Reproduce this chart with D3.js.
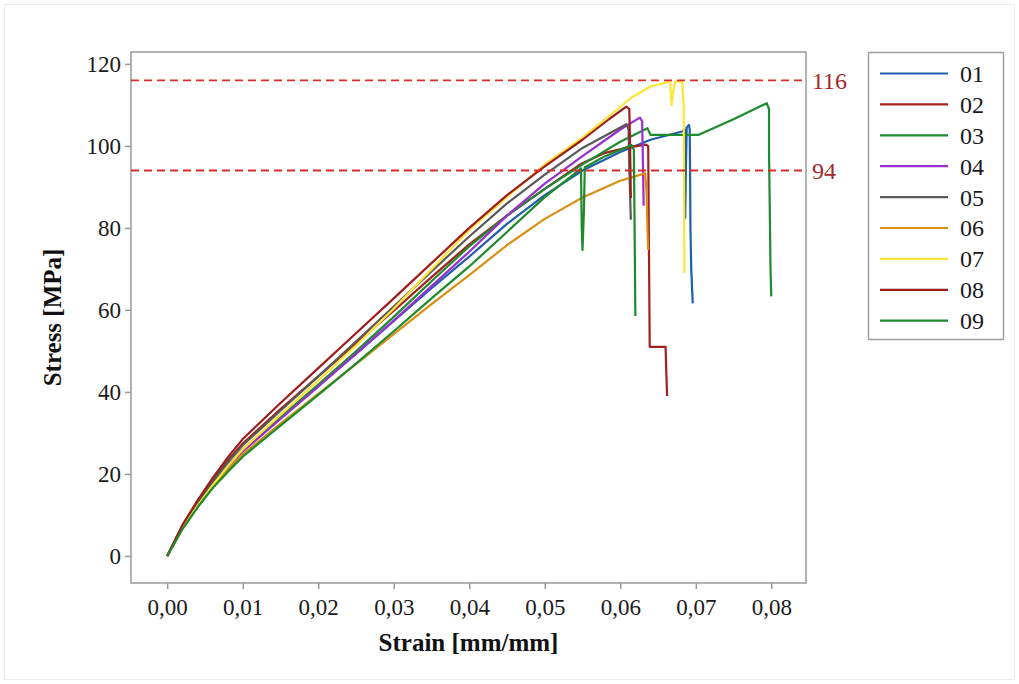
<!DOCTYPE html>
<html>
<head>
<meta charset="utf-8">
<script src="https://cdn.jsdelivr.net/npm/d3@7"></script>
<style>
  body { margin: 0; background: #fff; }
  svg { display: block; }
</style>
</head>
<body>
<svg id="chart" width="1019" height="684"></svg>
<script>
// Series names and colours (legend order)
const names = ["01", "02", "03", "04", "05", "06", "07", "08", "09"];
const colors = ["#1f5fae", "#a3201f", "#1e8b30", "#9a2fd0", "#595959", "#d98f12", "#ffe533", "#9d1c1c", "#1f8a2c"];

// Stress-strain points [strain, stress]
const s01 = [[0,0],[0.002,7],[0.004,12.6],[0.006,17.6],[0.008,22],[0.010,26],[0.015,34],[0.020,41.5],[0.025,49.3],[0.030,57.3],[0.035,65.3],[0.040,73],[0.045,81],[0.050,88],[0.055,94],[0.060,98.5],[0.064,101.5],[0.0682,103.5],[0.0685,104],[0.0686,95],[0.0686,82.4],[0.0687,95],[0.0688,104.5],[0.0691,105.1],[0.0692,104],[0.0693,79.5],[0.0694,70],[0.0696,61.6]];
const s02 = [[0,0],[0.002,7.3],[0.004,13.2],[0.006,18.5],[0.008,23.2],[0.010,27.4],[0.015,35.8],[0.020,43.8],[0.025,51.8],[0.030,59.8],[0.035,68],[0.040,76],[0.045,83],[0.050,89.5],[0.0547,95.5],[0.058,98.3],[0.0609,99.6],[0.0634,100.3],[0.0637,100],[0.0638,75],[0.0639,51],[0.066,51],[0.0661,45],[0.0662,39]];
const s03 = [[0,0],[0.002,6.8],[0.004,12.3],[0.006,17.2],[0.008,21.6],[0.010,25.6],[0.015,33.8],[0.020,41.8],[0.025,49.9],[0.030,58.3],[0.035,67],[0.040,75.5],[0.045,83],[0.050,89.5],[0.055,95.5],[0.060,101],[0.0636,104.3],[0.064,102.7],[0.0704,102.7],[0.075,106.5],[0.0794,110.4],[0.0797,109],[0.0797,99],[0.0798,85],[0.0799,70],[0.0800,63.3]];
const s04 = [[0,0],[0.002,6.8],[0.004,12.3],[0.006,17.2],[0.008,21.5],[0.010,25.5],[0.015,33.4],[0.020,41.3],[0.025,49.3],[0.030,57.4],[0.035,65.8],[0.040,74.2],[0.045,83],[0.050,90.8],[0.055,97.5],[0.060,104],[0.0626,106.9],[0.0629,106],[0.0630,96],[0.0631,85.4]];
const s05 = [[0,0],[0.002,7.2],[0.004,13],[0.006,18.2],[0.008,22.8],[0.010,27],[0.015,35.4],[0.020,43.8],[0.025,52.3],[0.030,60.8],[0.035,69.4],[0.040,77.9],[0.045,86],[0.050,93],[0.055,99.5],[0.0608,105.3],[0.0611,104],[0.0612,95],[0.0614,82]];
const s06 = [[0,0],[0.002,6.6],[0.004,12],[0.006,16.8],[0.008,21],[0.010,24.8],[0.015,32.3],[0.020,39.5],[0.025,46.8],[0.030,54.1],[0.035,61.4],[0.040,68.5],[0.045,75.8],[0.050,82.2],[0.055,87.4],[0.060,91.5],[0.0633,93.3],[0.0635,88],[0.0636,80],[0.0637,74.6]];
const s07 = [[0,0],[0.002,6.8],[0.004,12.2],[0.006,17.2],[0.008,21.8],[0.010,26],[0.015,34.4],[0.020,42.8],[0.025,51.3],[0.030,60.3],[0.035,69.9],[0.040,79.5],[0.045,87.5],[0.050,95.5],[0.055,102],[0.058,106.5],[0.0615,111.8],[0.064,114.5],[0.0666,115.7],[0.0668,110],[0.0670,113],[0.0673,115.7],[0.0682,115.7],[0.0684,110],[0.0685,69]];
const s08 = [[0,0],[0.002,7.5],[0.004,13.5],[0.006,19],[0.008,24],[0.010,28.5],[0.015,37.3],[0.020,45.8],[0.025,54.3],[0.030,62.8],[0.035,71.4],[0.040,80],[0.045,88],[0.050,95],[0.055,101.5],[0.0585,106.5],[0.0608,109.6],[0.0612,109],[0.0613,100],[0.0614,87.3]];
const s09 = [[0,0],[0.002,6.5],[0.004,11.8],[0.006,16.5],[0.008,20.5],[0.010,24.2],[0.015,31.8],[0.020,39.3],[0.025,46.9],[0.030,54.8],[0.035,62.8],[0.040,70.6],[0.045,79],[0.050,87.5],[0.0543,93.7],[0.0548,94.5],[0.0549,80],[0.0550,74.6],[0.0552,85],[0.0553,94.8],[0.058,97.5],[0.0615,100.2],[0.0618,99],[0.0619,80],[0.0620,58.5]];
const series = [s01, s02, s03, s04, s05, s06, s07, s08, s09];

// Reference lines
const refValues = [116, 94];

// Axis ticks
const xTicks = [0, 0.01, 0.02, 0.03, 0.04, 0.05, 0.06, 0.07, 0.08];
const yTicks = [0, 20, 40, 60, 80, 100, 120];

const svg = d3.select("#chart");
const font = "'Liberation Serif', 'Times New Roman', serif";

// faint outer border
svg.append("rect")
    .attr("x", 4.5).attr("y", 4.5)
    .attr("width", 1010).attr("height", 675)
    .attr("fill", "#fff")
    .attr("stroke", "#ececec")
    .attr("stroke-width", 1);

// Plot area
const plotL = 131, plotR = 806, plotT = 52, plotB = 583;

let x = d3.scaleLinear()
    .domain([-0.0048, 0.0846])
    .range([plotL, plotR]);

let y = d3.scaleLinear()
    .domain([-6.6, 122.9])
    .range([plotB, plotT]);

// Axes
let xAxis = d3.axisBottom(x)
    .tickValues(xTicks)
    .tickSize(6)
    .tickFormat(d => d3.format(".2f")(d).replace(".", ","));

let yAxis = d3.axisLeft(y)
    .tickValues(yTicks)
    .tickSize(6);

let gx = svg.append("g")
    .attr("transform", `translate(0,${plotB})`)
    .call(xAxis);
let gy = svg.append("g")
    .attr("transform", `translate(${plotL},0)`)
    .call(yAxis);

[gx, gy].forEach(g => {
    g.select(".domain").remove();
    g.selectAll(".tick line").attr("stroke", "#9a9a9a").attr("stroke-width", 1.5);
    g.selectAll(".tick text")
        .attr("fill", "#1a1a1a")
        .style("font-family", font)
        .style("font-size", "23px");
});
gx.selectAll(".tick text").attr("dy", "1.0em");
gy.selectAll(".tick text").attr("x", -10);

// Frame
svg.append("rect")
    .attr("x", plotL).attr("y", plotT)
    .attr("width", plotR - plotL).attr("height", plotB - plotT)
    .attr("fill", "none")
    .attr("stroke", "#9a9a9a")
    .attr("stroke-width", 1.5);

// Curves
let line = d3.line()
    .x(d => x(d[0]))
    .y(d => y(d[1]));

let curves = svg.append("g");
series.forEach((s, i) => {
    curves.append("path")
        .datum(s)
        .attr("d", line)
        .attr("fill", "none")
        .attr("stroke", colors[i])
        .attr("stroke-width", 2.2)
        .attr("stroke-linejoin", "round");
});

// Dashed reference lines + labels
refValues.forEach(v => {
    svg.append("line")
        .attr("x1", plotL).attr("x2", plotR)
        .attr("y1", y(v)).attr("y2", y(v))
        .attr("stroke", "#dc2a2f")
        .attr("stroke-width", 1.8)
        .attr("stroke-dasharray", "8,5");
    svg.append("text")
        .attr("x", plotR + 6)
        .attr("y", y(v))
        .attr("dy", "0.35em")
        .attr("fill", "#a3282b")
        .style("font-family", font)
        .style("font-size", "24px")
        .text(v);
});

// Axis titles
svg.append("text")
    .attr("x", (plotL + plotR) / 2)
    .attr("y", 651)
    .attr("text-anchor", "middle")
    .attr("fill", "#111")
    .style("font-family", font)
    .style("font-size", "25px")
    .style("font-weight", "bold")
    .text("Strain [mm/mm]");

svg.append("text")
    .attr("transform", `translate(61,${(plotT + plotB) / 2}) rotate(-90)`)
    .attr("text-anchor", "middle")
    .attr("fill", "#111")
    .style("font-family", font)
    .style("font-size", "25px")
    .style("font-weight", "bold")
    .text("Stress [MPa]");

// Legend
let legend = svg.append("g");
legend.append("rect")
    .attr("x", 868.5).attr("y", 52.5)
    .attr("width", 135).attr("height", 287)
    .attr("fill", "#fff")
    .attr("stroke", "#a0a0a0")
    .attr("stroke-width", 1.5);

names.forEach((n, i) => {
    let ly = 73.5 + i * 30.9;
    legend.append("line")
        .attr("x1", 880).attr("x2", 948)
        .attr("y1", ly).attr("y2", ly)
        .attr("stroke", colors[i])
        .attr("stroke-width", 2.2);
    legend.append("text")
        .attr("x", 960).attr("y", ly)
        .attr("dy", "0.35em")
        .attr("fill", "#1a1a1a")
        .style("font-family", font)
        .style("font-size", "24px")
        .text(n);
});
</script>
</body>
</html>
